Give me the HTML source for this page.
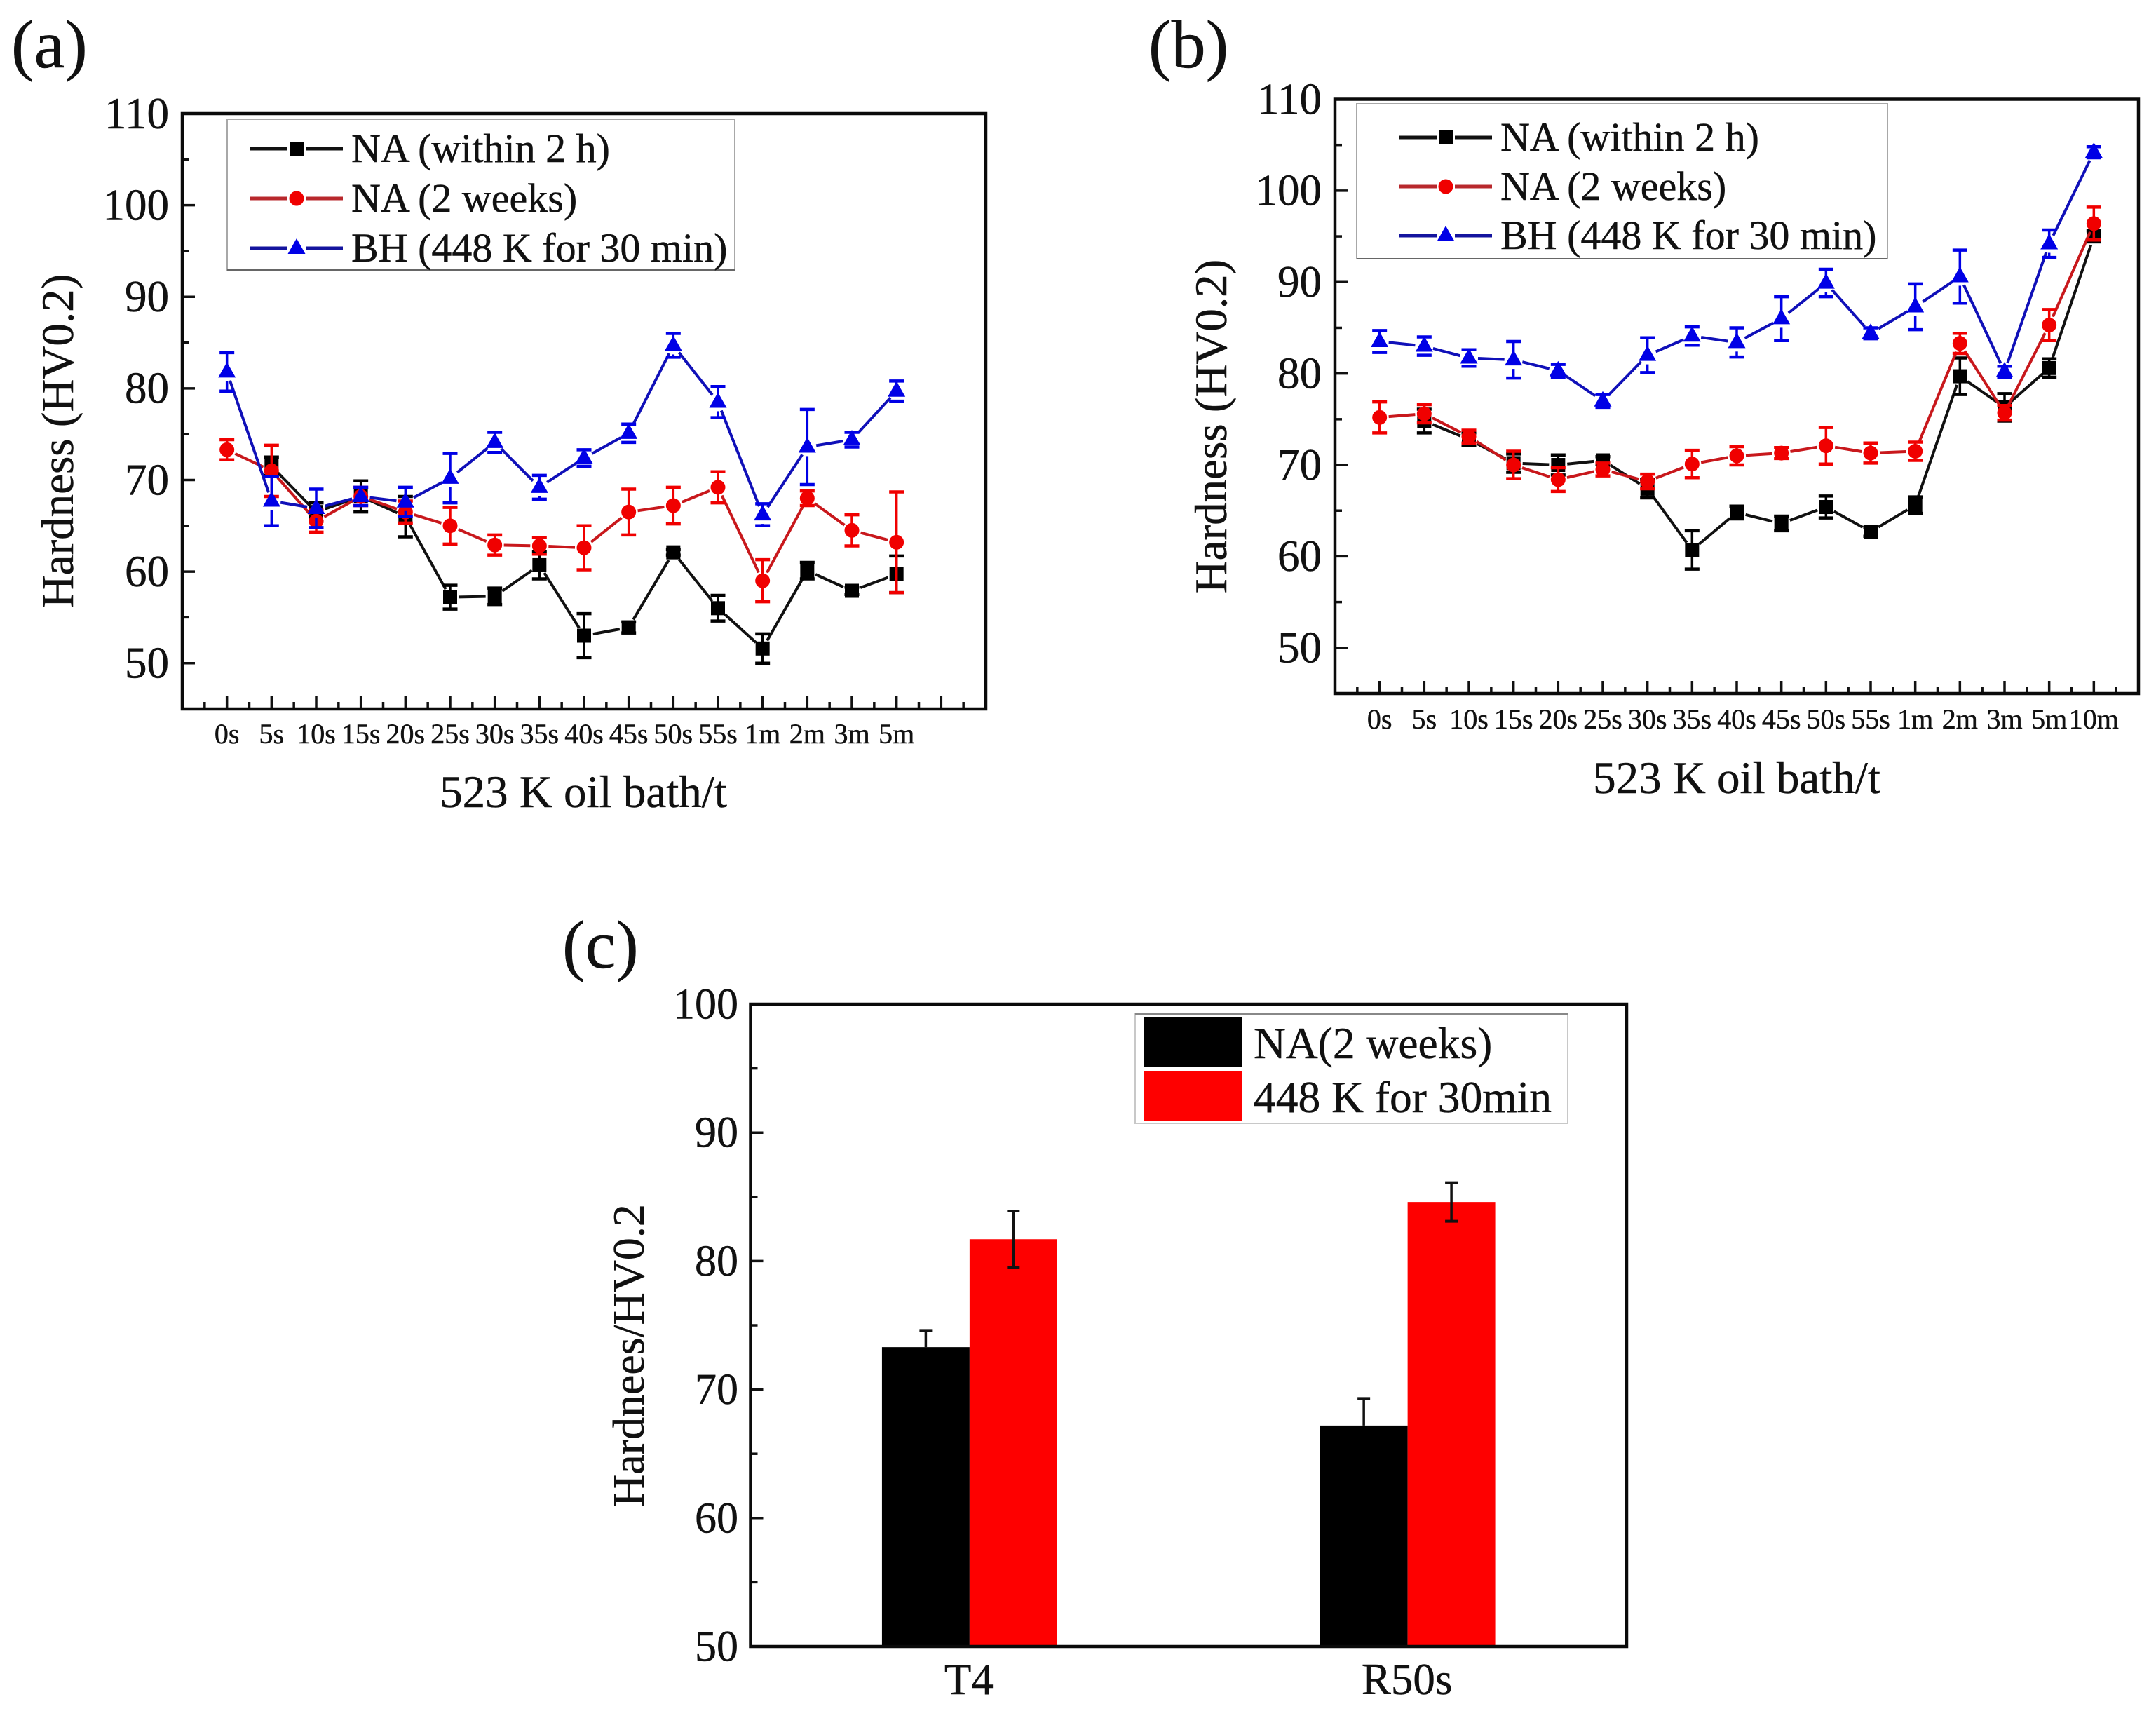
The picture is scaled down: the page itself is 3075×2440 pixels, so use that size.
<!DOCTYPE html>
<html lang="en">
<head>
<meta charset="utf-8">
<title>Hardness charts</title>
<style>
html,body{margin:0;padding:0;background:#fff;}
svg{display:block;}
text{font-family:"Liberation Serif","Times New Roman",serif;fill:#111;stroke:#111;stroke-width:0.5px;}
</style>
</head>
<body>
<svg id="figure" xmlns="http://www.w3.org/2000/svg" width="3075" height="2440" viewBox="0 0 3075 2440"></svg>
<script>
// ---- Panel (a) data ----
const timeLabelsA = ['0s','5s','10s','15s','20s','25s','30s','35s','40s','45s','50s','55s','1m','2m','3m','5m'];
const naWithinA = [null,71.5,66.5,68.2,66.0,57.2,57.3,60.7,53.0,53.9,62.1,56.0,51.6,60.1,57.9,59.7];
const naWithinErrA = [0,1.0,1.0,1.7,2.2,1.3,0.9,1.5,2.4,0.6,0.3,1.4,1.6,0.9,0.4,2.0];
const naWeeksA = [73.3,71.0,65.5,68.2,66.5,65.0,62.9,62.8,62.6,66.5,67.2,69.2,59.0,68.0,64.5,63.2];
const naWeeksErrA = [1.1,2.8,1.2,1.0,1.2,2.0,1.1,0.9,2.4,2.5,2.0,1.7,2.3,0.8,1.7,5.5];
const bhA = [81.8,67.7,66.9,68.2,67.6,70.2,74.1,69.2,72.4,75.1,84.7,78.5,66.2,73.6,74.4,79.7];
const bhErrA = [2.1,2.7,2.1,1.0,1.6,2.7,1.1,1.3,0.9,1.0,1.3,1.7,1.2,4.1,0.8,1.1];

// ---- Panel (b) data ----
const timeLabelsB = ['0s','5s','10s','15s','20s','25s','30s','35s','40s','45s','50s','55s','1m','2m','3m','5m','10m'];
const naWithinB = [null,74.8,72.8,70.2,70.0,70.5,67.4,60.7,64.8,63.6,65.4,62.7,65.6,79.7,76.3,80.6,95.0];
const naWithinErrB = [0,1.3,0.7,1.0,1.1,0.4,1.0,2.1,0.7,0.8,1.2,0.5,0.9,2.0,1.5,1.0,0.6];
const naWeeksB = [75.2,75.6,73.1,70.0,68.4,69.5,68.2,70.1,71.0,71.3,72.1,71.3,71.5,83.3,75.7,85.3,96.4];
const naWeeksErrB = [1.7,1.0,0.7,1.5,1.3,0.7,0.8,1.5,1.0,0.6,2.0,1.1,1.0,1.1,0.8,1.7,1.8];
const bhB = [83.5,83.0,81.7,81.5,80.3,77.0,82.0,84.1,83.4,86.0,89.9,84.4,87.3,90.6,80.2,94.2,104.2];
const bhErrB = [1.2,1.0,0.9,2.0,0.7,0.7,1.9,1.0,1.6,2.4,1.5,0.6,2.5,2.9,0.6,1.5,0.6];

// ---- Panel (c) data ----
const barCategories = ['T4','R50s'];
const barNaWeeks = [73.3,67.2];
const barNaWeeksErr = [1.3,2.1];
const barBake = [81.7,84.6];
const barBakeErr = [2.2,1.5];

// ---- Axis tick values ----
const lineYTicks = [50,60,70,80,90,100,110];
const lineYMinorTicks = [55,65,75,85,95,105];
const barYTicks = [50,60,70,80,90,100];
const barYMinorTicks = [55,65,75,85,95];

const lineLegendLabels = ['NA (within 2 h)','NA (2 weeks)','BH (448 K for 30 min)'];
const barLegendLabels = ['NA(2 weeks)','448 K for 30min'];

const SVGNS = 'http://www.w3.org/2000/svg';
const root = document.getElementById('figure');

function mk(tag, parent, attrs) {
  const el = document.createElementNS(SVGNS, tag);
  for (const k in attrs) el.setAttribute(k, attrs[k]);
  parent.appendChild(el);
  return el;
}
function group(parent, name) {
  const g = mk('g', parent, {});
  
  
  return g;
}
function label(parent, name, str, x, y, size, anchor, rotate) {
  const attrs = {x: x, y: y, 'font-size': size, 'text-anchor': anchor || 'start'};
  if (rotate) attrs.transform = 'rotate(' + rotate + ' ' + x + ' ' + y + ')';
  const t = mk('text', parent, attrs);
  
  
  t.textContent = str;
  return t;
}
function segment(parent, name, x1, y1, x2, y2, stroke, width) {
  const l = mk('line', parent, {x1: x1, y1: y1, x2: x2, y2: y2, stroke: stroke, 'stroke-width': width});
  
  
  return l;
}
function scales(box) {
  return {
    x: v => box.left + (v - box.xMin) / (box.xMax - box.xMin) * (box.right - box.left),
    y: v => box.bottom - (v - box.yMin) / (box.yMax - box.yMin) * (box.bottom - box.top)
  };
}
function marker(parent, name, kind, cx, cy, color) {
  let m;
  if (kind === 'square') {
    m = mk('rect', parent, {x: cx - 10, y: cy - 10, width: 20, height: 20, fill: color});
  } else if (kind === 'circle') {
    m = mk('circle', parent, {cx: cx, cy: cy, r: 10.5, fill: color});
  } else {
    m = mk('polygon', parent, {points: (cx) + ',' + (cy - 14) + ' ' + (cx + 12.5) + ',' + (cy + 8) + ' ' + (cx - 12.5) + ',' + (cy + 8), fill: color});
  }
  
  
  return m;
}
function frame(parent, box, width) {
  const r = mk('rect', parent, {x: box.left, y: box.top, width: box.right - box.left, height: box.bottom - box.top, fill: 'none', stroke: '#0a0a0a', 'stroke-width': width});
  
  
}
function yAxis(parent, box, s, majors, minors, labelX, fontSize) {
  const g = group(parent, 'y-axis');
  majors.forEach(v => {
    segment(g, 'y-major-tick', box.left, s.y(v), box.left + 18, s.y(v), '#111', 3.5);
    label(g, 'y-tick-label', String(v), labelX, s.y(v) + fontSize * 0.33, fontSize, 'end');
  });
  minors.forEach(v => {
    segment(g, 'y-minor-tick', box.left, s.y(v), box.left + 10, s.y(v), '#111', 3.5);
  });
}
function drawSeries(parent, name, s, values, errs, color, lineColor, kind) {
  const g = group(parent, name);
  const pts = [];
  values.forEach((v, i) => { if (v !== null) pts.push({i: i, px: s.x(i), py: s.y(v), err: errs[i], v: v}); });
  for (let k = 0; k + 1 < pts.length; k++) {
    const a = pts[k], b = pts[k + 1];
    const dx = b.px - a.px, dy = b.py - a.py, len = Math.hypot(dx, dy), gap = 13;
    if (len <= gap * 2) continue;
    segment(g, name + '-line-segment', a.px + dx / len * gap, a.py + dy / len * gap, b.px - dx / len * gap, b.py - dy / len * gap, lineColor, 4);
  }
  pts.forEach(p => {
    const hi = s.y(p.v + p.err), lo = s.y(p.v - p.err);
    const lowStart = kind === 'triangle' ? Math.min(p.py + 13, lo) : p.py;
    segment(g, name + '-error-bar', p.px, hi, p.px, p.py, color, 3.5);
    segment(g, name + '-error-bar', p.px, lowStart, p.px, lo, color, 3.5);
    segment(g, name + '-error-cap', p.px - 10.5, hi, p.px + 10.5, hi, color, 4.5);
    segment(g, name + '-error-cap', p.px - 10.5, lo, p.px + 10.5, lo, color, 4.5);
  });
  pts.forEach(p => {
    marker(g, name + '-point', kind, p.px, p.py, color);
  });
}
function lineLegend(parent, L) {
  const g = group(parent, 'legend');
  const box = mk('rect', g, {x: L.x, y: L.y, width: L.w, height: L.h, fill: '#fff', stroke: '#a8a8a8', 'stroke-width': 2});
  
  
  segment(g, 'legend-bottom-edge', L.x, L.y + L.h, L.x + L.w, L.y + L.h, '#666', 2);
  const colors = ['#000','#f00000','#0000e6'];
  const lineColors = ['#111','#b8282c','#14149e'];
  const kinds = ['square','circle','triangle'];
  const rowNames = ['legend-entry-na-within-2h','legend-entry-na-2-weeks','legend-entry-bh'];
  lineLegendLabels.forEach((t, i) => {
    const ry = L.rows + i * L.gap;
    const rg = group(g, rowNames[i]);
    segment(rg, 'legend-line', L.lineX, ry, L.lineX + 53, ry, lineColors[i], 5);
    segment(rg, 'legend-line', L.lineX + 79, ry, L.lineX + 132, ry, lineColors[i], 5);
    marker(rg, 'legend-marker', kinds[i], L.lineX + 66, ry, colors[i]);
    label(rg, 'legend-label', t, L.lineX + 144, ry + 19, 58);
  });
}
function linePanel(cfg) {
  const p = group(root, cfg.name);
  const box = cfg.box, s = scales(box);
  label(p, 'panel-letter', cfg.letter, cfg.letterX, 96, 98);
  yAxis(p, box, s, lineYTicks, lineYMinorTicks, cfg.yLabelX, 63);
  const gx = group(p, 'x-axis');
  for (let v = box.xMin + 0.5; v < box.xMax; v += 0.5) {
    const major = Number.isInteger(v);
    segment(gx, major ? 'x-major-tick' : 'x-minor-tick', s.x(v), box.bottom, s.x(v), box.bottom - (major ? 18 : 10), '#111', 3.5);
  }
  cfg.ticks.forEach((t, i) => {
    label(gx, 'x-tick-label', t, s.x(i), cfg.xLabelY, 40, 'middle');
  });
  label(p, 'x-axis-title', '523 K oil bath/t', cfg.xTitleX, cfg.xTitleY, 65, 'middle');
  label(p, 'y-axis-title', 'Hardness (HV0.2)', cfg.yTitleX, cfg.yTitleY, 65, 'middle', -90);
  frame(p, box, 4.5);
  drawSeries(p, 'series-na-within-2h', s, cfg.black, cfg.blackErr, '#000', '#111', 'square');
  drawSeries(p, 'series-na-2-weeks', s, cfg.red, cfg.redErr, '#f00000', '#c8181c', 'circle');
  drawSeries(p, 'series-bh', s, cfg.blue, cfg.blueErr, '#0000e6', '#1010b8', 'triangle');
  lineLegend(p, cfg.legend);
}

linePanel({
  name: 'panel-a', letter: '(a)', letterX: 16,
  box: {left: 260, right: 1406, top: 162, bottom: 1011, xMin: -1, xMax: 17, yMin: 45, yMax: 110},
  ticks: timeLabelsA, black: naWithinA, blackErr: naWithinErrA, red: naWeeksA, redErr: naWeeksErrA, blue: bhA, blueErr: bhErrA,
  yLabelX: 241, xLabelY: 1060, xTitleX: 832, xTitleY: 1151, yTitleX: 104, yTitleY: 629,
  legend: {x: 324, y: 170, w: 724, h: 215, rows: 212, gap: 71, lineX: 357}
});
linePanel({
  name: 'panel-b', letter: '(b)', letterX: 1638,
  box: {left: 1904, right: 3050, top: 141.5, bottom: 989, xMin: -1, xMax: 17, yMin: 45, yMax: 110},
  ticks: timeLabelsB, black: naWithinB, blackErr: naWithinErrB, red: naWeeksB, redErr: naWeeksErrB, blue: bhB, blueErr: bhErrB,
  yLabelX: 1885, xLabelY: 1039, xTitleX: 2477, xTitleY: 1131, yTitleX: 1749, yTitleY: 608,
  legend: {x: 1935, y: 148, w: 757, h: 221, rows: 196, gap: 70, lineX: 1996}
});

(function barPanel() {
  const p = group(root, 'panel-c');
  const box = {left: 1070.5, right: 2320, top: 1432, bottom: 2348, xMin: 0.5, xMax: 2.5, yMin: 50, yMax: 100};
  const s = scales(box);
  label(p, 'panel-letter', '(c)', 802, 1380, 98);
  yAxis(p, box, s, barYTicks, barYMinorTicks, 1053, 62);
  const halfBar = (s.x(1.2) - s.x(1));
  barCategories.forEach((c, i) => {
    const center = s.x(i + 1);
    const g = group(p, 'bar-group-' + c.toLowerCase());
    const b1 = mk('rect', g, {x: center - halfBar, y: s.y(barNaWeeks[i]), width: halfBar, height: box.bottom - s.y(barNaWeeks[i]), fill: '#000'});
    
    
    const b2 = mk('rect', g, {x: center, y: s.y(barBake[i]), width: halfBar, height: box.bottom - s.y(barBake[i]), fill: '#fe0000'});
    
    
    const c1 = center - halfBar / 2, c2 = center + halfBar / 2;
    const hi1 = s.y(barNaWeeks[i] + barNaWeeksErr[i]);
    const lo2 = s.y(barBake[i] - barBakeErr[i]), hi2 = s.y(barBake[i] + barBakeErr[i]);
    segment(g, 'error-bar-na-2-weeks', c1, hi1, c1, s.y(barNaWeeks[i]), '#111', 3.5);
    segment(g, 'error-cap-na-2-weeks', c1 - 9, hi1, c1 + 9, hi1, '#111', 4);
    segment(g, 'error-bar-448k', c2, hi2, c2, lo2, '#111', 3.5);
    segment(g, 'error-cap-448k', c2 - 9, hi2, c2 + 9, hi2, '#111', 4);
    segment(g, 'error-cap-448k', c2 - 9, lo2, c2 + 9, lo2, '#111', 4);
    label(g, 'x-tick-label', c, center - 1, 2416, 63, 'middle');
  });
  label(p, 'y-axis-title', 'Hardnees/HV0.2', 918, 1933, 64, 'middle', -90);
  frame(p, box, 4.5);

  const lg = group(p, 'legend');
  const lb = mk('rect', lg, {x: 1619, y: 1446, width: 617, height: 156, fill: '#fff', stroke: '#c8c8c8', 'stroke-width': 2});
  
  
  segment(lg, 'legend-top-edge', 1619, 1446, 2236, 1446, '#888', 2);
  const swatchColors = ['#000','#fe0000'];
  barLegendLabels.forEach((t, i) => {
    const rg = group(lg, i === 0 ? 'legend-entry-na-2-weeks' : 'legend-entry-448k');
    const sw = mk('rect', rg, {x: 1632, y: 1451 + i * 77, width: 140, height: 71, fill: swatchColors[i]});
    
    
    label(rg, 'legend-label', t, 1788, 1509 + i * 77, 63.5);
  });
})();
</script>
</body>
</html>
